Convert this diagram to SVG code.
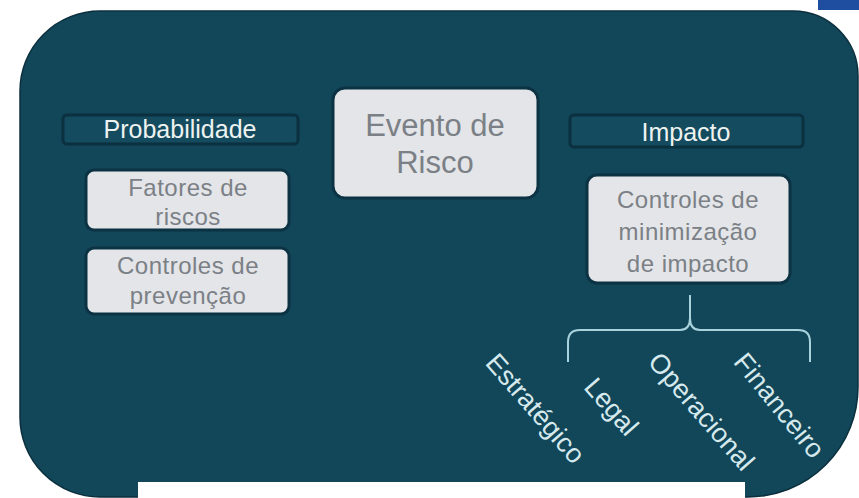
<svg xmlns="http://www.w3.org/2000/svg" width="859" height="498" viewBox="0 0 859 498">
<defs>
<style>
.bar{fill:#154b5f;stroke:#0b3140;stroke-width:3}
.box{fill:#e3e5e8;stroke:#0c3343;stroke-width:3}
.bt{font-family:"Liberation Sans",Arial,sans-serif;font-size:25px;fill:#eef3f1;text-anchor:middle}
.gt{font-family:"Liberation Sans",Arial,sans-serif;font-size:24px;fill:#7b8086;text-anchor:middle;letter-spacing:0.5px}
.rt{font-family:"Liberation Sans",Arial,sans-serif;font-size:27px;fill:#d6eaee;text-anchor:middle}
</style>
</defs>
<rect width="859" height="498" fill="#ffffff"/>
<rect x="818" y="0" width="41" height="10" fill="#1f4ea0"/>
<path d="M100,11 H793 A65,65 0 0 1 858,76 V387 A110,110 0 0 1 748,497 H100 A80,80 0 0 1 20,417 V91 A80,80 0 0 1 100,11 Z" fill="#124659" stroke="#0b2f3d" stroke-width="1.5"/>
<rect x="138" y="482" width="607" height="16" fill="#ffffff"/>
<g id="probabilidade">
<rect class="bar" x="63" y="115" width="235" height="29" rx="4"/>
<text class="bt" x="180" y="138">Probabilidade</text>
</g>
<g id="fatores">
<rect class="box" x="86" y="170" width="203" height="60" rx="8"/>
<text class="gt" x="188" y="196">Fatores de</text>
<text class="gt" x="188" y="225">riscos</text>
</g>
<g id="prevencao">
<rect class="box" x="86" y="248" width="203" height="66" rx="8"/>
<text class="gt" x="188" y="274">Controles de</text>
<text class="gt" x="188" y="304">prevenção</text>
</g>
<g id="evento">
<rect class="box" x="333" y="88" width="205" height="110" rx="12"/>
<text class="gt" x="435" y="136" style="font-size:31px;letter-spacing:0">Evento de</text>
<text class="gt" x="435" y="173" style="font-size:31px;letter-spacing:0">Risco</text>
</g>
<g id="impacto">
<rect class="bar" x="570" y="115" width="233" height="32" rx="4"/>
<text class="bt" x="686" y="141">Impacto</text>
</g>
<g id="minimizacao">
<rect class="box" x="587" y="175" width="203" height="108" rx="10"/>
<text class="gt" x="688" y="208">Controles de</text>
<text class="gt" x="688" y="240">minimização</text>
<text class="gt" x="688" y="272">de impacto</text>
</g>
<g id="connectors">
<path d="M568,362 V342 Q568,330 580,330 H680 Q690,330 690,318 V295 M690,318 Q690,330 700,330 H798 Q810,330 810,342 V362" fill="none" stroke="#a9d3dc" stroke-width="2"/>
</g>
<g id="estrategico"><text class="rt" transform="translate(536,408) rotate(49)" x="0" y="10">Estratégico</text></g>
<g id="legal"><text class="rt" transform="translate(612,406) rotate(49)" x="0" y="10">Legal</text></g>
<g id="operacional"><text class="rt" transform="translate(702,411) rotate(49)" x="0" y="10">Operacional</text></g>
<g id="financeiro"><text class="rt" transform="translate(780,405) rotate(51)" x="0" y="10">Financeiro</text></g>
</svg>
